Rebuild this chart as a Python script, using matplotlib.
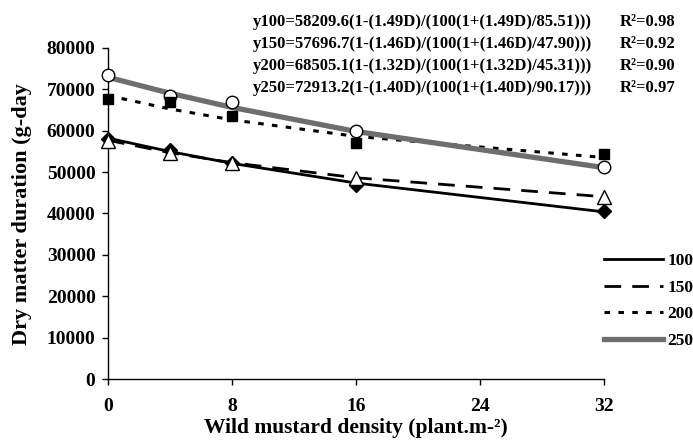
import matplotlib
matplotlib.use("Agg")
import matplotlib.pyplot as plt

plt.rcParams['font.family'] = ['Liberation Serif', 'DejaVu Serif']
plt.rcParams['font.weight'] = 'bold'
plt.rcParams['lines.scale_dashes'] = False

# Data
density = [0, 4, 8, 16, 32]
labels = ['100', '150', '200', '250']
obs_100 = [58000, 55300, 52300, 46900, 40600]
obs_150 = [57600, 54700, 52300, 48500, 44100]
obs_200 = [67600, 66900, 63600, 57100, 54300]
obs_250 = [73500, 68400, 66900, 60000, 51200]
fit_100 = [58210, 54967, 52120, 47358, 40391]
fit_150 = [57697, 54694, 52279, 48637, 44051]
fit_200 = [68505, 65266, 62638, 58637, 53530]
fit_250 = [72913, 69069, 65649, 59830, 51090]
equations = [
    "y100=58209.6(1-(1.49D)/(100(1+(1.49D)/85.51)))",
    "y150=57696.7(1-(1.46D)/(100(1+(1.46D)/47.90)))",
    "y200=68505.1(1-(1.32D)/(100(1+(1.32D)/45.31)))",
    "y250=72913.2(1-(1.40D)/(100(1+(1.40D)/90.17)))",
]
r2 = ["R²=0.98", "R²=0.92", "R²=0.90", "R²=0.97"]
xticks = [0, 8, 16, 24, 32]
yticks = [0, 10000, 20000, 30000, 40000, 50000, 60000, 70000, 80000]

fig = plt.figure(figsize=(6.93, 4.41), dpi=100)
ax = fig.add_axes([108/693, 62/441, (604-108)/693, (379-48)/441])

styles = {
    '100': dict(color='black', lw=2.0, linestyle='-'),
    '150': dict(color='black', lw=2.0, linestyle=(0, (12, 8))),
    '200': dict(color='black', lw=2.2, linestyle=(0, (4, 6))),
    '250': dict(color='#6e6e6e', lw=3.8, linestyle='-'),
}
fits = [fit_100, fit_150, fit_200, fit_250]
obs = [obs_100, obs_150, obs_200, obs_250]
markers = [
    dict(marker='D', markersize=7, markerfacecolor='black', markeredgecolor='black'),
    dict(marker='^', markersize=9.5, markerfacecolor='white', markeredgecolor='black', markeredgewidth=1),
    dict(marker='s', markersize=7.5, markerfacecolor='black', markeredgecolor='black'),
    dict(marker='o', markersize=9, markerfacecolor='white', markeredgecolor='black', markeredgewidth=1),
]

handles = []
for lab, f in zip(labels, fits):
    h, = ax.plot(density, f, clip_on=False, zorder=2, **styles[lab])
    handles.append(h)
order = [3, 2, 0, 1]
for i in order:
    ax.plot(density, obs[i], linestyle='none', clip_on=False, zorder=3, **markers[i])

ax.set_xlim(0, 32)
ax.set_ylim(0, 80000)
ax.set_xticks(xticks)
ax.set_yticks(yticks)
ax.spines['top'].set_visible(False)
ax.spines['right'].set_visible(False)
for s in ['left', 'bottom']:
    ax.spines[s].set_linewidth(1.0)
ax.tick_params(axis='both', direction='out', length=4, width=1, labelsize=14)
ax.tick_params(axis='x', pad=10)
ax.tick_params(axis='y', pad=5)
for t in ax.get_xticklabels() + ax.get_yticklabels():
    t.set_fontweight('bold')

ax.set_xlabel('Wild mustard density (plant.m-²)', fontsize=15.5, fontweight='bold', labelpad=2)
fig.text(22/693, 1 - 214/441, 'Dry matter duration (g-day', rotation=90, fontsize=16,
         fontweight='bold', ha='center', va='center')

eq_y = [22, 44, 66, 88]
for eq, r, yy in zip(equations, r2, eq_y):
    fig.text(253/693, 1 - yy/441, eq, fontsize=12, fontweight='bold', ha='left', va='center')
    fig.text(620/693, 1 - yy/441, r, fontsize=12, fontweight='bold', ha='left', va='center')

leg = fig.legend(handles, labels, loc='upper left', bbox_to_anchor=(597/693, 1 - 246/441),
                 frameon=False, fontsize=12.5, handlelength=3.4, handletextpad=0.25,
                 labelspacing=0.6, borderaxespad=0)
for t in leg.get_texts():
    t.set_fontweight('bold')

fig.savefig('out.png', dpi=100)
